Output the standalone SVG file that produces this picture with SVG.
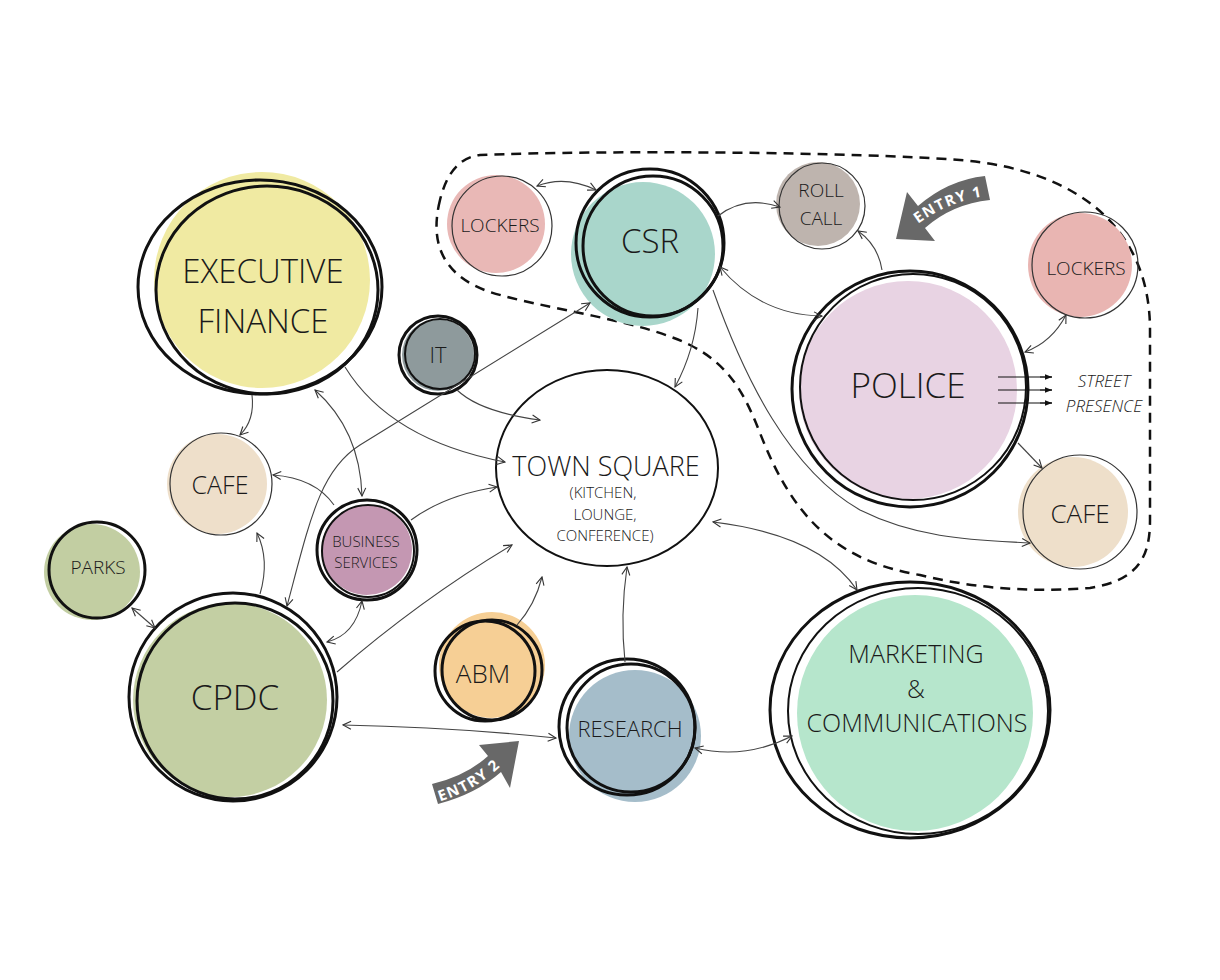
<svg xmlns="http://www.w3.org/2000/svg" width="1220" height="980" viewBox="0 0 1220 980">
<defs>
<style>
.t{font-family:"Open Sans","Liberation Sans",sans-serif;font-weight:350;fill:#1a1a1a;text-anchor:middle}
.o{fill:none;stroke:#111;stroke-width:3}
.o2{fill:none;stroke:#111;stroke-width:2}
.thin{fill:none;stroke:#333;stroke-width:1.2}
.c{fill:none;stroke:#444;stroke-width:1.1}
.e{font-family:"Open Sans","Liberation Sans",sans-serif;font-weight:700;fill:#fff;font-size:15px;letter-spacing:1.5px}
.s{font-family:"Open Sans","Liberation Sans",sans-serif;font-style:italic;font-weight:350;font-size:17px;fill:#1a1a1a;text-anchor:middle}
</style>
<marker id="a" viewBox="0 0 10 10" refX="9" refY="5" markerWidth="10" markerHeight="10" markerUnits="userSpaceOnUse" orient="auto-start-reverse">
<path d="M1,1 L9,5 L1,9" fill="none" stroke="#333" stroke-width="1.1"/>
</marker>
<marker id="f" viewBox="0 0 10 10" refX="10" refY="5" markerWidth="9" markerHeight="7" markerUnits="userSpaceOnUse" orient="auto">
<path d="M0,1 L10,5 L0,9 Z" fill="#111"/>
</marker>
<path id="p1" d="M 914,227 Q 950,199 994,195"/>
<path id="p2" d="M 438,802 Q 478,790 505,762"/>
</defs>
<rect width="1220" height="980" fill="#fff"/>

<path d="M 440,200 C 430,240 440,275 490,292 C 540,308 640,320 690,345 C 730,365 745,395 760,433 C 790,510 830,560 920,575 C 980,590 1040,592 1090,588 C 1140,580 1150,555 1150,520 L 1150,330 C 1150,230 1080,170 960,160 C 860,152 600,150 480,155 C 455,158 445,180 440,200 Z" fill="none" stroke="#111" stroke-width="2.5" stroke-dasharray="10 7"/>

<g id="n-exec">
<circle cx="262" cy="280" r="108" fill="#f0eaa2"/>
<ellipse cx="260" cy="287" rx="122" ry="107" class="o"/>
<ellipse cx="267" cy="290" rx="111" ry="104" class="o"/>
<text class="t" x="263" y="283" font-size="33">EXECUTIVE</text>
<text class="t" x="263" y="333" font-size="33">FINANCE</text>
</g>

<g id="n-it">
<circle cx="438" cy="355" r="36" fill="#8e9a9c"/>
<circle cx="438" cy="355" r="39" class="o"/>
<circle cx="440" cy="354" r="35" class="o2"/>
<text class="t" x="438" y="363" font-size="22">IT</text>
</g>

<g id="n-csr">
<circle cx="643" cy="254" r="72" fill="#a9d6cb"/>
<circle cx="650" cy="243" r="74" class="o"/>
<circle cx="653" cy="246" r="70" class="o"/>
<text class="t" x="650" y="253" font-size="33">CSR</text>
</g>

<g id="n-lockers1">
<circle cx="496" cy="224" r="49" fill="#e9b8b6"/>
<circle cx="502" cy="226" r="50" class="thin"/>
<text class="t" x="500" y="232" font-size="19">LOCKERS</text>
</g>

<g id="n-rollcall">
<circle cx="818" cy="204" r="42" fill="#beb4ae"/>
<circle cx="822" cy="206" r="43" class="thin"/>
<text class="t" x="821" y="197" font-size="19">ROLL</text>
<text class="t" x="821" y="225" font-size="19">CALL</text>
</g>

<g id="n-lockers2">
<circle cx="1080" cy="265" r="52" fill="#e9b5b2"/>
<circle cx="1085" cy="265" r="53" class="thin"/>
<text class="t" x="1086" y="275" font-size="19">LOCKERS</text>
</g>

<g id="n-police">
<circle cx="908" cy="390" r="109" fill="#e8d3e3"/>
<circle cx="910" cy="389" r="118" class="o"/>
<circle cx="913" cy="387" r="113" class="o2"/>
<text class="t" x="908" y="398" font-size="35">POLICE</text>
</g>

<g id="n-cafe2">
<circle cx="1073" cy="512" r="55" fill="#eedfca"/>
<circle cx="1080" cy="512" r="57" class="thin"/>
<text class="t" x="1080" y="523" font-size="26">CAFE</text>
</g>

<g id="n-town">
<ellipse cx="607" cy="468" rx="111" ry="98" fill="#fff" stroke="#111" stroke-width="2"/>
<text class="t" x="606" y="476" font-size="27">TOWN SQUARE</text>
<text class="t" x="603" y="498" font-size="15">(KITCHEN,</text>
<text class="t" x="605" y="520" font-size="15">LOUNGE,</text>
<text class="t" x="605" y="541" font-size="15">CONFERENCE)</text>
</g>

<g id="n-cafe1">
<circle cx="217" cy="484" r="50" fill="#eedfca"/>
<circle cx="221" cy="484" r="51" class="thin"/>
<text class="t" x="220" y="494" font-size="25">CAFE</text>
</g>

<g id="n-business">
<circle cx="367" cy="550" r="45" fill="#c497b2"/>
<circle cx="367" cy="550" r="50" class="o"/>
<circle cx="368" cy="551" r="46" class="o2"/>
<text class="t" x="366" y="547" font-size="15">BUSINESS</text>
<text class="t" x="366" y="568" font-size="15">SERVICES</text>
</g>

<g id="n-parks">
<circle cx="92" cy="572" r="48" fill="#c2cea2"/>
<circle cx="97" cy="570" r="48" class="o"/>
<text class="t" x="98" y="574" font-size="19">PARKS</text>
</g>

<g id="n-cpdc">
<circle cx="230" cy="700" r="97" fill="#c3cfa3"/>
<circle cx="233" cy="697" r="104" class="o"/>
<circle cx="235" cy="701" r="98" class="o"/>
<text class="t" x="235" y="710" font-size="35">CPDC</text>
</g>

<g id="n-abm">
<circle cx="492" cy="665" r="53" fill="#f6cf95"/>
<circle cx="485" cy="671" r="50" class="o"/>
<circle cx="492" cy="670" r="50" class="o"/>
<text class="t" x="483" y="683" font-size="26">ABM</text>
</g>

<g id="n-research">
<circle cx="635" cy="736" r="66" fill="#a5bdca"/>
<circle cx="627" cy="727" r="68" class="o"/>
<circle cx="631" cy="728" r="64" class="o"/>
<text class="t" x="630" y="737" font-size="22">RESEARCH</text>
</g>

<g id="n-marketing">
<circle cx="915" cy="713" r="118" fill="#b6e6cc"/>
<ellipse cx="910" cy="710" rx="140" ry="128" class="o"/>
<ellipse cx="918" cy="711" rx="130" ry="123" class="o2"/>
<text class="t" x="916" y="663" font-size="25">MARKETING</text>
<text class="t" x="916" y="698" font-size="25">&amp;</text>
<text class="t" x="917" y="732" font-size="25">COMMUNICATIONS</text>
</g>

<g id="connectors">
<path class="c" d="M537,186 Q565,175 596,190" marker-start="url(#a)" marker-end="url(#a)"/>
<path class="c" d="M718,216 Q745,195 780,207" marker-end="url(#a)"/>
<path class="c" d="M882,270 Q878,245 858,231" marker-end="url(#a)"/>
<path class="c" d="M720,267 Q760,315 822,316" marker-start="url(#a)" marker-end="url(#a)"/>
<path class="c" d="M698,308 Q695,350 675,387" marker-end="url(#a)"/>
<path class="c" d="M713,290 C745,380 790,470 860,510 C920,540 980,540 1030,543" marker-end="url(#a)"/>
<path class="c" d="M1018,443 L1042,468" marker-end="url(#a)"/>
<path class="c" d="M1025,352 Q1052,342 1066,315" marker-start="url(#a)" marker-end="url(#a)"/>
<path class="c" d="M713,522 Q820,535 857,590" marker-start="url(#a)" marker-end="url(#a)"/>
<path class="c" d="M625,662 Q620,615 627,567" marker-end="url(#a)"/>
<path class="c" d="M517,625 Q535,605 542,577" marker-end="url(#a)"/>
<path class="c" d="M695,748 Q745,760 792,736" marker-start="url(#a)" marker-end="url(#a)"/>
<path class="c" d="M343,725 Q450,727 556,738" marker-start="url(#a)" marker-end="url(#a)"/>
<path class="c" d="M337,672 Q420,600 512,545" marker-end="url(#a)"/>
<path class="c" d="M287,606 C310,520 320,470 360,445 C450,390 530,340 590,303" marker-start="url(#a)" marker-end="url(#a)"/>
<path class="c" d="M327,642 Q355,635 362,601" marker-start="url(#a)" marker-end="url(#a)"/>
<path class="c" d="M260,594 Q270,560 257,533" marker-end="url(#a)"/>
<path class="c" d="M334,505 Q315,478 273,475" marker-end="url(#a)"/>
<path class="c" d="M315,390 Q360,430 362,496" marker-start="url(#a)" marker-end="url(#a)"/>
<path class="c" d="M252,395 Q255,420 240,435" marker-end="url(#a)"/>
<path class="c" d="M345,367 Q390,440 505,462" marker-end="url(#a)"/>
<path class="c" d="M457,390 Q480,412 540,420" marker-end="url(#a)"/>
<path class="c" d="M411,520 Q445,495 497,487" marker-end="url(#a)"/>
<path class="c" d="M132,608 L155,628" marker-start="url(#a)" marker-end="url(#a)"/>
<path d="M998,377 L1052,377 M998,390 L1052,390 M998,403 L1052,403" fill="none" stroke="#111" stroke-width="1.1"/>
<path d="M1040,377 L1052,377" stroke="#111" marker-end="url(#f)"/>
<path d="M1040,390 L1052,390" stroke="#111" marker-end="url(#f)"/>
<path d="M1040,403 L1052,403" stroke="#111" marker-end="url(#f)"/>
</g>

<text class="s" x="1104" y="387">STREET</text>
<text class="s" x="1104" y="412">PRESENCE</text>

<g id="entry1">
<path d="M985,176 Q948,180 918,206 L907,192 L896,239 L935,241 L925,228 Q952,204 990,200 Z" fill="#686868"/>
<text class="e"><textPath href="#p1" startOffset="5">ENTRY  1</textPath></text>
</g>
<g id="entry2">
<path d="M432,784 Q466,776 488,756 L479,745 L519,741 L510,788 L501,772 Q476,794 438,804 Z" fill="#686868"/>
<text class="e"><textPath href="#p2" startOffset="2">ENTRY 2</textPath></text>
</g>
</svg>
